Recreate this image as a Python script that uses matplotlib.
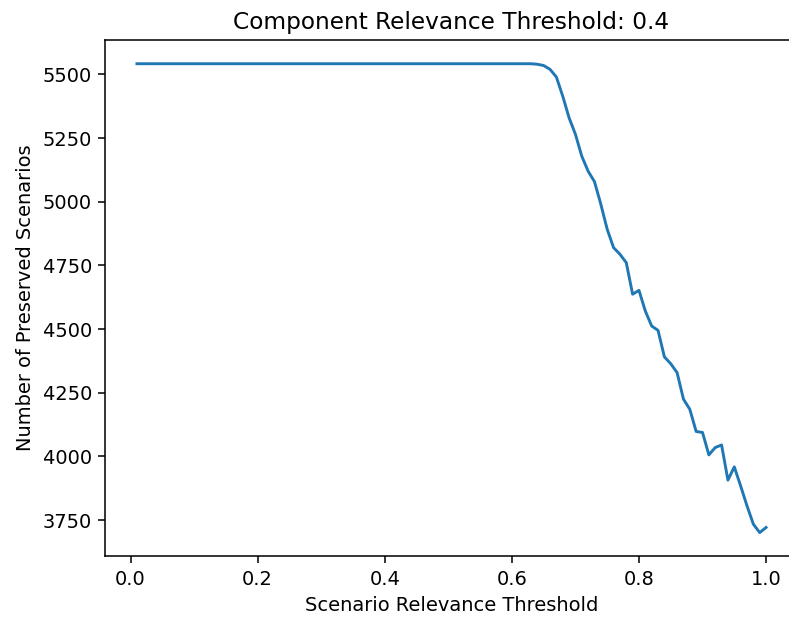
import numpy as np
import matplotlib.pyplot as plt

# scenario relevance thresholds 0.01 .. 1.00
thresholds = np.round(np.arange(1, 101) * 0.01, 2)

flat_part = [5542] * 63
drop_part = [5540, 5535, 5520, 5490, 5415, 5330, 5265, 5179, 5120, 5079,
             4990, 4892, 4820, 4794, 4761, 4637, 4652, 4571, 4512, 4495,
             4391, 4364, 4329, 4225, 4185, 4098, 4094, 4006, 4035, 4045,
             3907, 3959, 3884, 3806, 3734, 3701, 3721]
preserved = np.array(flat_part + drop_part)

component_threshold = 0.4

# original was a default figure at a higher dpi, cropped on the right
dpi = 139.5
fig = plt.figure(figsize=(789 / dpi, 618 / dpi), dpi=dpi)
ax = fig.add_axes([0.1337, 0.1003, 0.8771, 0.8345])

ax.plot(thresholds, preserved, color='tab:blue')

ax.set_title(f'Component Relevance Threshold: {component_threshold}')
ax.set_xlabel('Scenario Relevance Threshold')
ax.set_ylabel('Number of Preserved Scenarios')

# right edge of the axes falls outside the cropped picture
ax.spines['right'].set_visible(False)

fig.savefig('out.png', dpi=dpi)
